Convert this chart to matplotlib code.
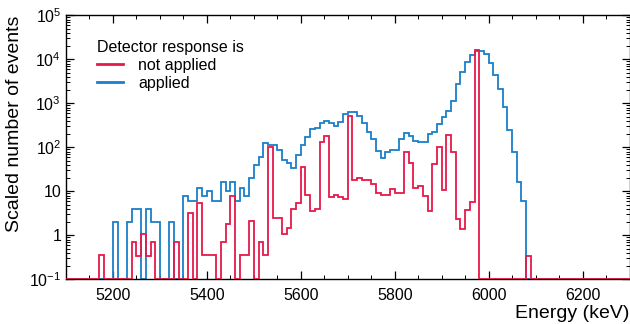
import numpy as np
import matplotlib
matplotlib.use("Agg")
import matplotlib.pyplot as plt
from matplotlib.ticker import LogLocator, FixedLocator, MultipleLocator, NullFormatter

plt.rcParams['font.family'] = ['Liberation Sans', 'DejaVu Sans']
plt.rcParams['mathtext.fontset'] = 'custom'
plt.rcParams['mathtext.rm'] = 'Liberation Sans'
plt.rcParams['mathtext.it'] = 'Liberation Sans:italic'
plt.rcParams['mathtext.bf'] = 'Liberation Sans:bold'

# Histogram binning (keV)
e_min, e_max, bin_width = 5100, 6300, 10

# Non-zero bins: index -> scaled number of events
not_applied_bins = [7, 14, 15, 16, 17, 18, 23, 26, 28, 29, 30, 31, 33, 34, 35, 37, 38, 39,
                    41, 42, 43, 44, 45, 46, 47, 48, 49, 50, 51, 52, 53, 54, 55, 56, 57, 58,
                    59, 60, 61, 62, 63, 64, 65, 66, 67, 68, 69, 70, 71, 72, 73, 74, 75, 76,
                    77, 78, 79, 80, 81, 82, 83, 84, 85, 86, 87, 98]
not_applied_vals = [0.35, 0.7, 0.34, 1.05, 0.34, 0.7, 0.7, 3.2, 5.4, 0.35, 0.35, 0.35, 0.72,
                    1.8, 8.0, 0.35, 0.35, 2.1, 0.7, 0.35, 100, 2.5, 2.5, 1.05, 1.45, 3.9, 5.5,
                    36, 8.1, 3.6, 3.9, 134, 180, 7.3, 8.3, 7.5, 6.7, 525, 18, 19.6, 18.5, 18.5,
                    14.5, 9.0, 8.2, 8.2, 11.5, 9.3, 9.3, 79, 45, 12, 13.4, 7.9, 3.5, 42, 100,
                    10.5, 190, 77, 2.4, 1.39, 3.8, 5.6, 16000, 0.34]

applied_bins = list(range(10, 98))
applied_vals = [2, 0, 0, 2, 4, 4, 0, 4, 2, 2, 0, 0, 2, 0, 0, 8, 6, 6, 12, 8, 10.4, 6, 6,
                16.5, 10.4, 16.5, 6, 12, 8, 20, 40, 61, 127, 111, 111, 85, 51, 45, 34.5, 67,
                113, 174, 257, 279, 351, 397, 351, 303, 381, 571, 645, 645, 513, 351, 219,
                151, 83, 58, 80, 87, 87, 154, 208, 183, 142, 130, 130, 200, 225, 333, 500,
                680, 1120, 2700, 5100, 8500, 12500, 15500, 15500, 13200, 8300, 4400, 2090,
                830, 247, 79, 16, 6]

edges = np.arange(e_min, e_max + bin_width, bin_width)
nb = len(edges) - 1
red = np.zeros(nb)
red[not_applied_bins] = not_applied_vals
blue = np.zeros(nb)
blue[applied_bins] = applied_vals

c_red = '#e6194b'
c_blue = '#1a7fc9'

fig = plt.figure(figsize=(6.3, 3.24), dpi=100)
ax = fig.add_axes([66/630, 1 - 279.3/324, (629.5-66)/630, (279.3-15.3)/324])

ymin = 0.1
ax.stairs(np.where(blue > 0, blue, ymin), edges, baseline=None, color=c_blue, lw=1.3,
          label='applied', zorder=2)
ax.stairs(np.where(red > 0, red, ymin), edges, baseline=None, color=c_red, lw=1.3,
          label='not applied', zorder=3)

ax.set_yscale('log')
ax.set_xlim(e_min, e_max)
ax.set_ylim(0.1, 1e5)

ax.xaxis.set_major_locator(FixedLocator([5200, 5400, 5600, 5800, 6000, 6200]))
ax.xaxis.set_minor_locator(MultipleLocator(50))
ax.yaxis.set_major_locator(FixedLocator([0.1, 1, 10, 100, 1e3, 1e4, 1e5]))
ax.yaxis.set_minor_locator(LogLocator(base=10, subs=np.arange(2, 10), numticks=20))
ax.yaxis.set_minor_formatter(NullFormatter())
ax.set_yticklabels(['$10^{-1}$', '1', '10', '$10^{2}$', '$10^{3}$', '$10^{4}$', '$10^{5}$'])

ax.tick_params(which='both', direction='in', top=True, right=True, labelsize=11.5)
ax.tick_params(which='major', length=6, width=0.9)
ax.tick_params(which='minor', length=3, width=0.7)
ax.tick_params(axis='x', which='major', pad=6)
for s in ax.spines.values():
    s.set_linewidth(1.0)

ax.set_xlabel('Energy (keV)', fontsize=14, loc='right', labelpad=2)
ax.set_ylabel('Scaled number of events', fontsize=14, loc='top')

handles, labels = ax.get_legend_handles_labels()
leg = ax.legend(handles[::-1], labels[::-1], title='Detector response is', frameon=False,
                loc='upper left', bbox_to_anchor=(0.044, 0.932), fontsize=11.5,
                title_fontsize=11.5, handlelength=1.6, handletextpad=0.95,
                labelspacing=0.2, alignment='left', borderaxespad=0)
for line in leg.get_lines():
    line.set_linewidth(2.0)

fig.savefig('out.png', dpi=100)
